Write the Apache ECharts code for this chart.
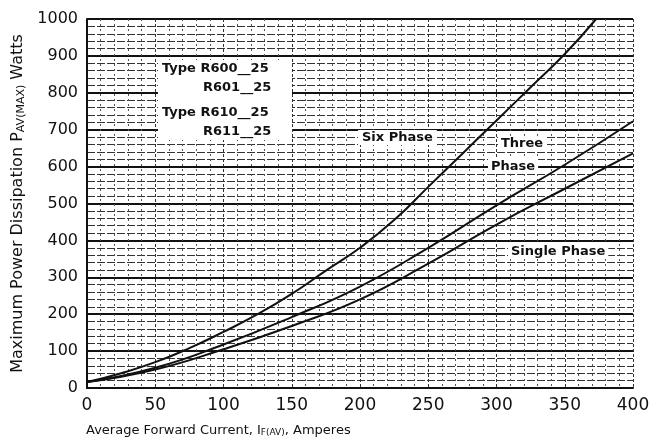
<!DOCTYPE html>
<html lang="en">
<head>
    <meta charset="utf-8">
    <title>Power Dissipation vs Forward Current</title>
    <style>
* {
  margin: 0;
  padding: 0;
}
#chart-container {
  position: relative;
  width: 653px;
  height: 439px;
  overflow: hidden;
  background: #fff;
}
    </style>
</head>
<body>
<div id="chart-container"></div>
<script src="https://fastly.jsdelivr.net/npm/echarts@6/dist/echarts.min.js"></script>
<script>
// values
let sixPhaseAmps = [0, 25, 50, 75, 100, 125, 150, 175, 200, 225, 250, 275, 300, 325, 350, 373];
let sixPhaseWatts = [16, 40, 70, 108, 152, 200, 255, 318, 380, 455, 545, 635, 725, 815, 905, 1000];
let threePhaseAmps = [0, 50, 100, 150, 200, 250, 300, 350, 400];
let threePhaseWatts = [16, 55, 118, 192, 275, 380, 495, 605, 723];
let singlePhaseAmps = [0, 50, 100, 150, 200, 250, 300, 350, 400];
let singlePhaseWatts = [16, 50, 105, 168, 240, 337, 443, 540, 636];

let xTicks = [0, 50, 100, 150, 200, 250, 300, 350, 400];
let yTicks = [0, 100, 200, 300, 400, 500, 600, 700, 800, 900, 1000];

function pairs(xs, ys) {
  let out = [];
  for (let i = 0; i < xs.length; i++) out.push([xs[i], ys[i]]);
  return out;
}

var dom = document.getElementById('chart-container');
var myChart = echarts.init(dom, null, { renderer: 'canvas' });

var font = 'DejaVu Sans';
var ink = '#111';
var noteFont = 'bold 13px "DejaVu Sans"';

function curve(name, data) {
  return {
    name: name,
    type: 'line',
    smooth: 0.5,
    symbol: 'none',
    data: data,
    lineStyle: { color: ink, width: 2 },
    z: 5
  };
}

var option = {
  backgroundColor: '#fff',
  animation: false,
  grid: { left: 87, right: 20, top: 19, bottom: 51 },
  xAxis: {
    type: 'value',
    min: xTicks[0],
    max: xTicks[xTicks.length - 1],
    interval: 50,
    axisLine: { show: true, lineStyle: { color: ink, width: 2 } },
    axisTick: { show: false },
    axisLabel: { color: ink, fontFamily: font, fontSize: 17, margin: 9, formatter: function (v) { return String(v); } },
    splitLine: { show: true, lineStyle: { color: '#333', width: 1, type: [3, 2] } },
    minorTick: { show: false, splitNumber: 5 },
    minorSplitLine: { show: true, lineStyle: { color: '#555', width: 1, type: [2, 3] } }
  },
  yAxis: {
    type: 'value',
    min: yTicks[0],
    max: yTicks[yTicks.length - 1],
    interval: 100,
    name: 'Maximum Power Dissipation P{s|AV(MAX)} Watts',
    nameLocation: 'middle',
    nameGap: 56,
    nameTextStyle: {
      color: ink, fontFamily: font, fontSize: 16,
      rich: { s: { fontSize: 11, fontFamily: font, color: ink, padding: [6, 0, 0, 0] } }
    },
    axisLine: { show: true, lineStyle: { color: ink, width: 2 } },
    axisTick: { show: false },
    axisLabel: { color: ink, fontFamily: font, fontSize: 16, margin: 9, formatter: function (v) { return String(v); } },
    splitLine: { show: true, lineStyle: { color: ink, width: 2 } },
    minorTick: { show: false, splitNumber: 5 },
    minorSplitLine: { show: true, lineStyle: { color: '#333', width: 1, type: [8, 2] } }
  },
  graphic: [
    {
      type: 'rect', shape: { x: 158, y: 60, width: 134, height: 80 },
      style: { fill: '#fff' }, z: 10
    },
    { type: 'text', left: 162, top: 62, z: 11, style: { text: 'Type R600__25', font: noteFont, fill: ink } },
    { type: 'text', left: 203, top: 81, z: 11, style: { text: 'R601__25', font: noteFont, fill: ink } },
    { type: 'text', left: 162, top: 106, z: 11, style: { text: 'Type R610__25', font: noteFont, fill: ink } },
    { type: 'text', left: 203, top: 125, z: 11, style: { text: 'R611__25', font: noteFont, fill: ink } },
    {
      type: 'text', left: 358, top: 130, z: 11,
      style: { text: 'Six Phase', font: noteFont, fill: ink, backgroundColor: '#fff', padding: [1, 4] }
    },
    {
      type: 'text', left: 498, top: 136, z: 11,
      style: { text: 'Three', font: noteFont, fill: ink, backgroundColor: '#fff', padding: [1, 3] }
    },
    {
      type: 'text', left: 488, top: 159, z: 11,
      style: { text: 'Phase', font: noteFont, fill: ink, backgroundColor: '#fff', padding: [1, 3] }
    },
    {
      type: 'text', left: 508, top: 244, z: 11,
      style: { text: 'Single Phase', font: noteFont, fill: ink, backgroundColor: '#fff', padding: [1, 3] }
    },
    {
      type: 'text', left: 86, top: 424, z: 11,
      style: {
        text: 'Average Forward Current, I{s|F(AV)}, Amperes',
        font: '13px "DejaVu Sans"', fill: ink,
        rich: { s: { fontSize: 9, fontFamily: font, fill: ink, padding: [5, 0, 0, 0] } }
      }
    }
  ],
  series: [
    curve('Six Phase', pairs(sixPhaseAmps, sixPhaseWatts)),
    curve('Three Phase', pairs(threePhaseAmps, threePhaseWatts)),
    curve('Single Phase', pairs(singlePhaseAmps, singlePhaseWatts))
  ]
};

if (option && typeof option === 'object') {
  myChart.setOption(option);
}

window.addEventListener('resize', myChart.resize);
</script>
</body>
</html>
